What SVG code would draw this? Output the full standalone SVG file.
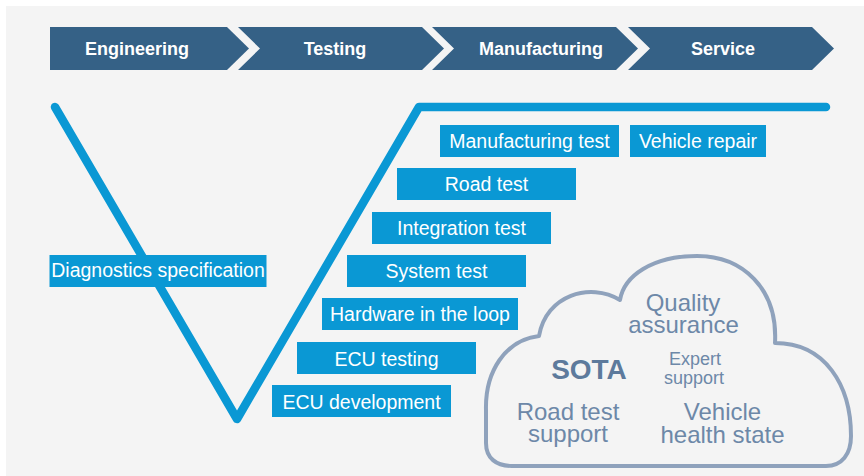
<svg xmlns="http://www.w3.org/2000/svg" width="864" height="476" viewBox="0 0 864 476">
  <style>
    text { font-family: "Liberation Sans", Arial, sans-serif; }
    .chev { fill: #356186; }
    .chevtxt { fill: #ffffff; font-size: 18px; font-weight: bold; text-anchor: middle; }
    .box { fill: #0a98d4; }
    .boxtxt { fill: #ffffff; font-size: 19.5px; text-anchor: middle; }
    .vline { fill: none; stroke: #0a98d4; stroke-width: 8.5; stroke-linecap: round; stroke-linejoin: round; }
    .cloud { fill: none; stroke: #8fa2bc; stroke-width: 4; stroke-linejoin: round; }
    .ctxt { fill: #6d88a8; text-anchor: middle; }
    .big { font-size: 24px; }
    .small { font-size: 18px; }
    .sota { fill: #5d7a9c; font-size: 28px; font-weight: bold; }
  </style>
  <rect x="0" y="0" width="864" height="476" fill="#ffffff"/>
  <rect x="6" y="6" width="858" height="470" fill="#f4f4f4"/>

  <g id="phase-engineering">
    <path class="chev" d="M50,27 L227,27 L249,48.5 L227,70 L50,70 Z"/>
    <text class="chevtxt" x="137" y="55">Engineering</text>
  </g>
  <g id="phase-testing">
    <path class="chev" d="M238,27 L422,27 L444,48.5 L422,70 L238,70 L260,48.5 Z"/>
    <text class="chevtxt" x="335" y="55">Testing</text>
  </g>
  <g id="phase-manufacturing">
    <path class="chev" d="M432,27 L616,27 L638,48.5 L616,70 L432,70 L454,48.5 Z"/>
    <text class="chevtxt" x="541" y="55">Manufacturing</text>
  </g>
  <g id="phase-service">
    <path class="chev" d="M628,27 L812,27 L834,48.5 L812,70 L628,70 L650,48.5 Z"/>
    <text class="chevtxt" x="723" y="55">Service</text>
  </g>

  <g id="connectors">
    <path class="vline" d="M55,107 L237,419 L419,107 L826,107"/>
  </g>

  <g id="diagnostics-specification">
    <rect class="box" x="49.5" y="255" width="217" height="32"/>
    <text class="boxtxt" x="158" y="277">Diagnostics specification</text>
  </g>
  <g id="manufacturing-test">
    <rect class="box" x="440" y="125" width="179" height="32"/>
    <text class="boxtxt" x="529.5" y="148">Manufacturing test</text>
  </g>
  <g id="vehicle-repair">
    <rect class="box" x="630" y="125" width="136" height="32"/>
    <text class="boxtxt" x="698" y="148">Vehicle repair</text>
  </g>
  <g id="road-test">
    <rect class="box" x="397" y="168" width="179" height="32"/>
    <text class="boxtxt" x="486.5" y="191">Road test</text>
  </g>
  <g id="integration-test">
    <rect class="box" x="372" y="212" width="179" height="32"/>
    <text class="boxtxt" x="461.5" y="235">Integration test</text>
  </g>
  <g id="system-test">
    <rect class="box" x="347" y="255" width="179" height="32"/>
    <text class="boxtxt" x="436.5" y="278">System test</text>
  </g>
  <g id="hardware-in-the-loop">
    <rect class="box" x="322" y="298" width="196" height="32"/>
    <text class="boxtxt" x="420" y="321">Hardware in the loop</text>
  </g>
  <g id="ecu-testing">
    <rect class="box" x="297" y="342" width="179" height="32"/>
    <text class="boxtxt" x="386.5" y="365.5">ECU testing</text>
  </g>
  <g id="ecu-development">
    <rect class="box" x="272" y="385" width="179" height="32"/>
    <text class="boxtxt" x="361.5" y="408.5">ECU development</text>
  </g>

  <g id="cloud">
    <path class="cloud" d="M512,466 L826,466 C842,466 851,454 851,436 C851,385 825,343 775,343 C778,288 742,256 697,256 C652,256 624,276 620,300 C590,282 546,295 539,336 C505,340 485,372 486,410 L486,443 C486,458 496,466 512,466 Z"/>
    <text class="ctxt big" x="683" y="311">Quality</text>
    <text class="ctxt big" x="683.5" y="333">assurance</text>
    <text class="ctxt sota" x="589" y="379">SOTA</text>
    <text class="ctxt small" x="695" y="365">Expert</text>
    <text class="ctxt small" x="694" y="384">support</text>
    <text class="ctxt big" x="568" y="420">Road test</text>
    <text class="ctxt big" x="568" y="442">support</text>
    <text class="ctxt big" x="722.5" y="420">Vehicle</text>
    <text class="ctxt big" x="722.5" y="443">health state</text>
  </g>
</svg>
